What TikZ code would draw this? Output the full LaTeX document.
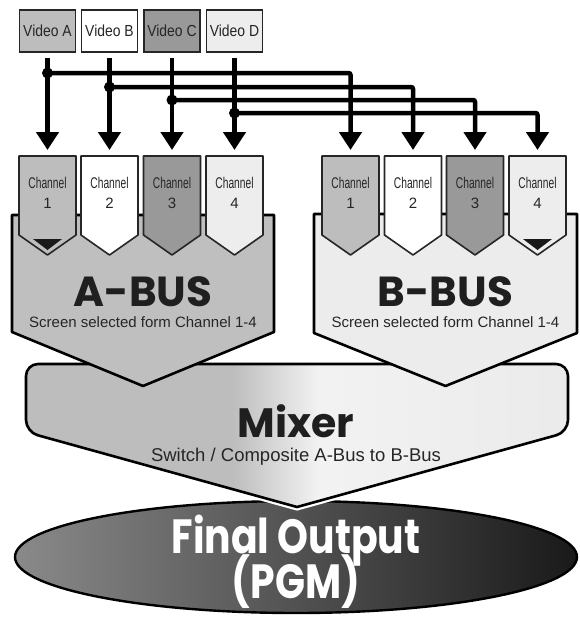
\documentclass[tikz,border=0pt]{standalone}
\usepackage{fontspec}
\setmainfont{Liberation Sans}
\newfontfamily\headfont{Poppins}
\newfontfamily\headnarrow{Poppins}[FakeStretch=0.82]
\newfontfamily\vidfont{Liberation Sans}[FakeStretch=0.87]
\newfontfamily\chanfont{Liberation Sans}[FakeStretch=0.66]
\usetikzlibrary{arrows.meta,shapes.geometric}

\definecolor{toneA}{gray}{0.74}
\definecolor{toneB}{gray}{1}
\definecolor{toneC}{gray}{0.6}
\definecolor{toneD}{gray}{0.93}
\definecolor{busA}{gray}{0.75}
\definecolor{busB}{gray}{0.925}
\definecolor{mixL}{gray}{0.74}
\definecolor{mixM}{gray}{0.95}
\definecolor{mixR}{gray}{0.92}
\pgfdeclarehorizontalshading{mixshade}{100bp}{color(0bp)=(mixL); color(25bp)=(mixL); color(44bp)=(mixL); color(52bp)=(mixM); color(75bp)=(mixR); color(100bp)=(mixR)}

% one input of a bus: x, fill, name, number
\newcommand\chan[4]{%
  \filldraw[fill=#2, draw=black!85, line width=1.6pt, line join=round]
    (#1-28.5,156) -- (#1+28.5,156) -- (#1+28.5,235) -- (#1,255) -- (#1-28.5,235) -- cycle;
  \coordinate (#3in) at (#1,156);
  \node[chanlabel] (#3) at (#1,193) {Channel\\\rmfamily\fontsize{15}{20}\selectfont #4};
}
% marker of the selected channel
\newcommand\pick[1]{\fill[black!90] (#1-14.5,239) -- (#1+14.5,239) -- (#1,250) -- cycle;}

\begin{document}
\begin{tikzpicture}[x=1pt, y=-1pt,
  vidbox/.style={draw=black!85, line width=1.6pt, minimum width=56pt, minimum height=42pt,
    inner sep=0pt, text=black!85, font=\vidfont\fontsize{16}{16}\selectfont},
  feed/.style={line width=4.5pt, -{Triangle[width=22pt,length=18pt]}, shorten >=6pt},
  joint/.style={circle, fill=black, inner sep=0pt, minimum size=11pt},
  chanlabel/.style={align=center, text=black!85, font=\chanfont\fontsize{15.5}{20}\selectfont},
  busframe/.style={draw=black, line width=2.6pt, line join=round},
  bustitle/.style={anchor=base, inner sep=0pt, text=black!88, font=\headfont\bfseries\fontsize{42}{42}\selectfont},
  subtitle/.style={anchor=base, inner sep=1pt, text=black!85, font=\fontsize{15}{15}\selectfont},
  outtitle/.style={anchor=base, inner sep=0pt, text=white, font=\headnarrow\bfseries\fontsize{48}{48}\selectfont},
  ]
\useasboundingbox (0,0) rectangle (580,618);

% final output
\node[ellipse, draw=black, line width=2.4pt, left color=black!46, right color=black!90,
  minimum width=562pt, minimum height=112pt, inner sep=0pt] (pgm) at (296,557) {};
\node[outtitle] (pgmA) at (296,553) {Final Output};
\node[outtitle] (pgmB) at (296,598) {(PGM)};

% mixer
\shadedraw[busframe, shading=mixshade, preaction={draw=white, line width=7pt}]
  (297,507) [rounded corners=12pt] -- (26,432) -- (26,364) -- (568,364) -- (568,432)
  -- (432.5,469.5) [sharp corners] -- cycle;
\node[bustitle, font=\headfont\bfseries\fontsize{41}{41}\selectfont] (mix) at (296,437) {Mixer};
\node[subtitle, font=\fontsize{18.5}{18.5}\selectfont] (mixsub) at (296,461) {Switch / Composite A-Bus to B-Bus};

% buses
\filldraw[busframe, fill=busA] (12,215) -- (274,215) -- (274,332) -- (143,386) -- (12,332) -- cycle;
\filldraw[busframe, fill=busB] (314,214) -- (577,214) -- (577,333) -- (445.5,386) -- (314,333) -- cycle;
\node[bustitle] (abus) at (143,306) {A-BUS};
\node[subtitle] (asub) at (143,327) {Screen selected form Channel 1-4};
\node[bustitle] (bbus) at (445.5,306) {B-BUS};
\node[subtitle] (bsub) at (445.5,327) {Screen selected form Channel 1-4};

\chan{47.5}{toneA}{a1}{1}
\chan{109.5}{toneB}{a2}{2}
\chan{172}{toneC}{a3}{3}
\chan{234.5}{toneD}{a4}{4}
\chan{350.5}{toneA}{b1}{1}
\chan{413}{toneB}{b2}{2}
\chan{475}{toneC}{b3}{3}
\chan{537.5}{toneD}{b4}{4}
\pick{47.5}
\pick{537.5}

% sources
\node[vidbox, fill=toneA] (vidA) at (47.5,31) {Video A};
\node[vidbox, fill=toneB] (vidB) at (109.5,31) {Video B};
\node[vidbox, fill=toneC] (vidC) at (172,31) {Video C};
\node[vidbox, fill=toneD] (vidD) at (234.5,31) {Video D};

\node[joint] (jA) at (47.5,73) {};
\node[joint] (jB) at (109.5,87) {};
\node[joint] (jC) at (172,100) {};
\node[joint] (jD) at (234.5,113) {};

\draw[feed, shorten <=5pt] (vidA.south) -- (a1in);
\draw[feed, shorten <=5pt] (vidB.south) -- (a2in);
\draw[feed, shorten <=5pt] (vidC.south) -- (a3in);
\draw[feed, shorten <=5pt] (vidD.south) -- (a4in);
\draw[feed, rounded corners=2pt] (jA.center) -| (b1in);
\draw[feed, rounded corners=2pt] (jB.center) -| (b2in);
\draw[feed, rounded corners=2pt] (jC.center) -| (b3in);
\draw[feed, rounded corners=2pt] (jD.center) -| (b4in);
\end{tikzpicture}
\end{document}
